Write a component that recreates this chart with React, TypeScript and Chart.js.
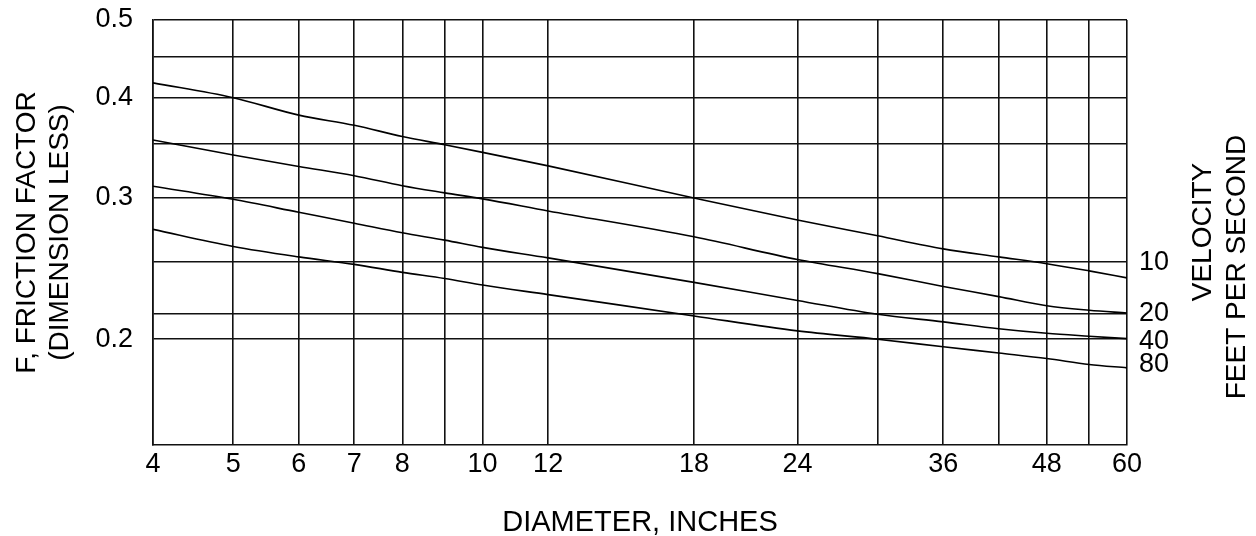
import React, { useEffect, useRef } from 'react';
import { Chart, registerables } from 'chart.js';

Chart.register(...registerables);

// Pipe diameter (inches) at which the curves were read
const diameters = [4, 5, 6, 7, 8, 9, 10, 12, 18, 24, 30, 36, 42, 48, 54, 60];

// Friction factor for each velocity (feet per second)
const velocityLabels = ['10', '20', '40', '80'];
const f10 = [0.4175, 0.4, 0.3805, 0.3696, 0.3579, 0.3495, 0.3419, 0.3289, 0.3, 0.2816, 0.2691, 0.2592, 0.2533, 0.2484, 0.2433, 0.2385];
const f20 = [0.3543, 0.3393, 0.3283, 0.3198, 0.3107, 0.3044, 0.2992, 0.289, 0.2683, 0.2514, 0.2414, 0.2327, 0.226, 0.2201, 0.2173, 0.2156];
const f40 = [0.3103, 0.2988, 0.2879, 0.279, 0.2714, 0.2658, 0.2603, 0.2526, 0.2354, 0.2235, 0.2148, 0.2102, 0.2061, 0.2034, 0.2017, 0.2003];
const f80 = [0.2741, 0.261, 0.2533, 0.2479, 0.2423, 0.238, 0.2336, 0.2273, 0.2138, 0.2048, 0.2, 0.1957, 0.1922, 0.1892, 0.186, 0.1842];
const seriesValues = [f10, f20, f40, f80];

// Grid lines and tick labels
const xGridValues = [4, 5, 6, 7, 8, 9, 10, 12, 18, 24, 30, 36, 42, 48, 54, 60];
const xTickLabels = [4, 5, 6, 7, 8, 10, 12, 18, 24, 36, 48, 60];
const yGridValues = [0.2, 0.215, 0.25, 0.3, 0.35, 0.4, 0.45, 0.5];
const yTickLabels = [0.2, 0.3, 0.4, 0.5];
const yMin = 0.1476;
const yMax = 0.5;

// Styling for the curve-end labels (vertical nudge, px)
const labelNudge = [-15, 1, 3, -3];

const FONT = '"Liberation Sans", Arial, Helvetica, sans-serif';

const sideTextPlugin = {
  id: 'sideText',
  afterDatasetsDraw(chart: any) {
    const ctx = chart.ctx;
    const area = chart.chartArea;
    ctx.save();
    ctx.fillStyle = '#000';
    ctx.font = `27px ${FONT}`;
    ctx.textAlign = 'left';
    ctx.textBaseline = 'middle';
    chart.data.datasets.forEach((ds: any, i: number) => {
      const meta = chart.getDatasetMeta(i);
      const pt = meta.data[meta.data.length - 1];
      if (pt) ctx.fillText(ds.label, area.right + 12, pt.y + labelNudge[i]);
    });
    ctx.font = `28px ${FONT}`;
    ctx.textAlign = 'center';
    const drawRot = (text: string, x: number, y: number) => {
      ctx.save();
      ctx.translate(x, y);
      ctx.rotate(-Math.PI / 2);
      ctx.fillText(text, 0, 0);
      ctx.restore();
    };
    drawRot('VELOCITY', area.right + 76, 232);
    drawRot('FEET PER SECOND', area.right + 110, 267);
    ctx.restore();
  },
};

export default function App() {
  const canvasRef = useRef<HTMLCanvasElement | null>(null);

  useEffect(() => {
    if (!canvasRef.current) return;
    const chart = new Chart(canvasRef.current, {
      type: 'line',
      data: {
        datasets: seriesValues.map((vals, i) => ({
          label: velocityLabels[i],
          data: diameters.map((d, j) => ({ x: d, y: vals[j] })),
          borderColor: '#000',
          borderWidth: 1.6,
          pointRadius: 0,
          fill: false,
          cubicInterpolationMode: 'monotone' as const,
        })),
      },
      options: {
        responsive: false,
        animation: false,
        layout: { padding: { top: 20, right: 129, bottom: 0, left: 0 } },
        plugins: {
          legend: { display: false },
          tooltip: { enabled: false },
          title: { display: false },
        },
        scales: {
          x: {
            type: 'logarithmic',
            min: 4,
            max: 60,
            bounds: 'data',
            afterBuildTicks: (scale: any) => {
              scale.ticks = xGridValues.map((v) => ({ value: v }));
            },
            afterFit: (scale: any) => {
              scale.height = 91;
            },
            grid: { color: '#111', lineWidth: 1.6, drawTicks: false },
            border: { color: '#111', width: 1.6 },
            ticks: {
              autoSkip: false,
              maxRotation: 0,
              padding: 3,
              color: '#000',
              font: { family: FONT, size: 27 },
              callback: (v: any) => (xTickLabels.includes(Number(v)) ? String(v) : ''),
            },
            title: {
              display: true,
              text: 'DIAMETER, INCHES',
              color: '#000',
              font: { family: FONT, size: 29 },
              padding: { top: 0, bottom: -4 },
            },
          },
          y: {
            type: 'logarithmic',
            min: yMin,
            max: yMax,
            bounds: 'data',
            afterBuildTicks: (scale: any) => {
              scale.ticks = yGridValues.map((v) => ({ value: v }));
            },
            afterFit: (scale: any) => {
              scale.width = 153;
              scale.paddingTop = 0;
              scale.paddingBottom = 0;
            },
            grid: { color: '#111', lineWidth: 1.6, drawTicks: false },
            border: { color: '#111', width: 1.6 },
            ticks: {
              autoSkip: false,
              padding: 20,
              color: '#000',
              font: { family: FONT, size: 27 },
              callback: (v: any) => {
                const n = Number(v);
                return yTickLabels.some((t) => Math.abs(t - n) < 1e-9) ? n.toFixed(1) : '';
              },
            },
            title: {
              display: true,
              text: ['F, FRICTION FACTOR', '(DIMENSION LESS)'],
              color: '#000',
              font: { family: FONT, size: 28 },
              padding: { top: 10, bottom: 0 },
            },
          },
        },
      } as any,
      plugins: [sideTextPlugin],
    });
    return () => chart.destroy();
  }, []);

  return (
    <div style={{ position: 'fixed', left: 0, top: 0, width: 1256, height: 536, background: '#fff' }}>
      <canvas ref={canvasRef} width={1256} height={536} style={{ display: 'block' }} />
    </div>
  );
}
